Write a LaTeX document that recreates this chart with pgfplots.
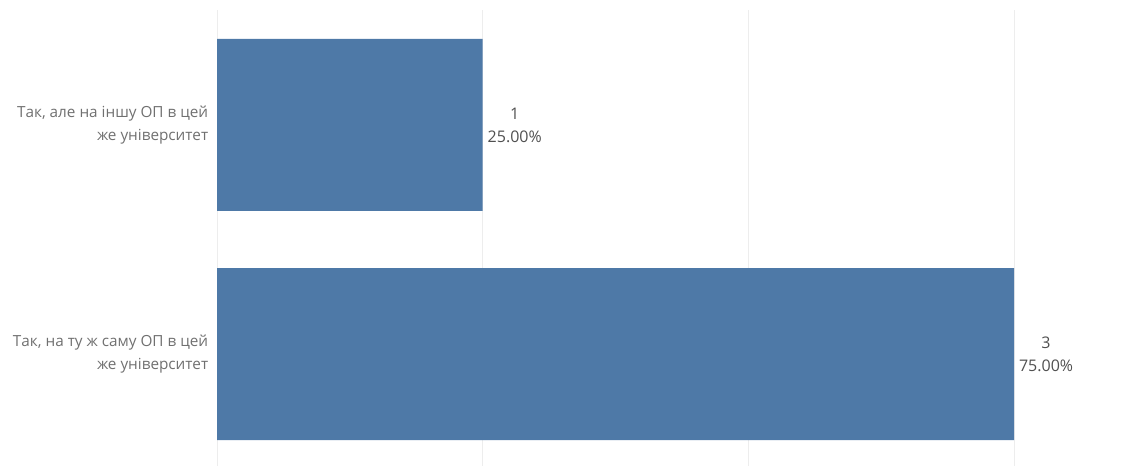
\documentclass[border=0pt]{standalone}
\usepackage{pgfplots}
\pgfplotsset{compat=1.18}
\usepackage{fontspec}
\setmainfont{Open Sans}
\definecolor{barblue}{HTML}{4E79A7}
\definecolor{gridgray}{HTML}{EDEDED}
\definecolor{lblgray}{HTML}{707070}
\definecolor{numgray}{HTML}{505050}
\begin{document}
\begin{tikzpicture}[x=1pt,y=1pt]
\useasboundingbox (0,0) rectangle (1137,466);
\begin{axis}[
  at={(217pt,0pt)}, anchor=south west,
  scale only axis, width=920pt, height=456pt,
  xmin=0, xmax=3.463, ymin=-0.489, ymax=1.502,
  axis lines=none,
  xbar, bar width=172pt,
  xtick={0,1,2,3}, xticklabels={},
  ytick={0,1},
  clip=false,
  point meta=explicit symbolic,
  nodes near coords,
  every node near coord/.append style={align=center, anchor=west, font=\fontsize{16}{23}\selectfont, text=numgray, xshift=1.5pt},
]
\foreach \xv in {0,1,2,3} {
  \edef\tmp{\noexpand\draw[gridgray, line width=1pt] (axis cs:\xv,-0.489) -- (axis cs:\xv,1.502);}
  \tmp
}
\addplot[fill=barblue, draw=none] coordinates {
  (3,0) [3\\75.00\%]
  (1,1) [1\\25.00\%]
};
\node[anchor=east, align=right, text=lblgray, font=\fontsize{15.3}{23}\selectfont] at (axis cs:0,1) [xshift=-5.3pt] {Так, але на іншу ОП в цей\hspace{4.5pt}\\же університет};
\node[anchor=east, align=right, text=lblgray, font=\fontsize{15.3}{23}\selectfont] at (axis cs:0,0) [xshift=-5.3pt] {Так, на ту ж саму ОП в цей\hspace{4.5pt}\\же університет};
\end{axis}
\end{tikzpicture}
\end{document}
